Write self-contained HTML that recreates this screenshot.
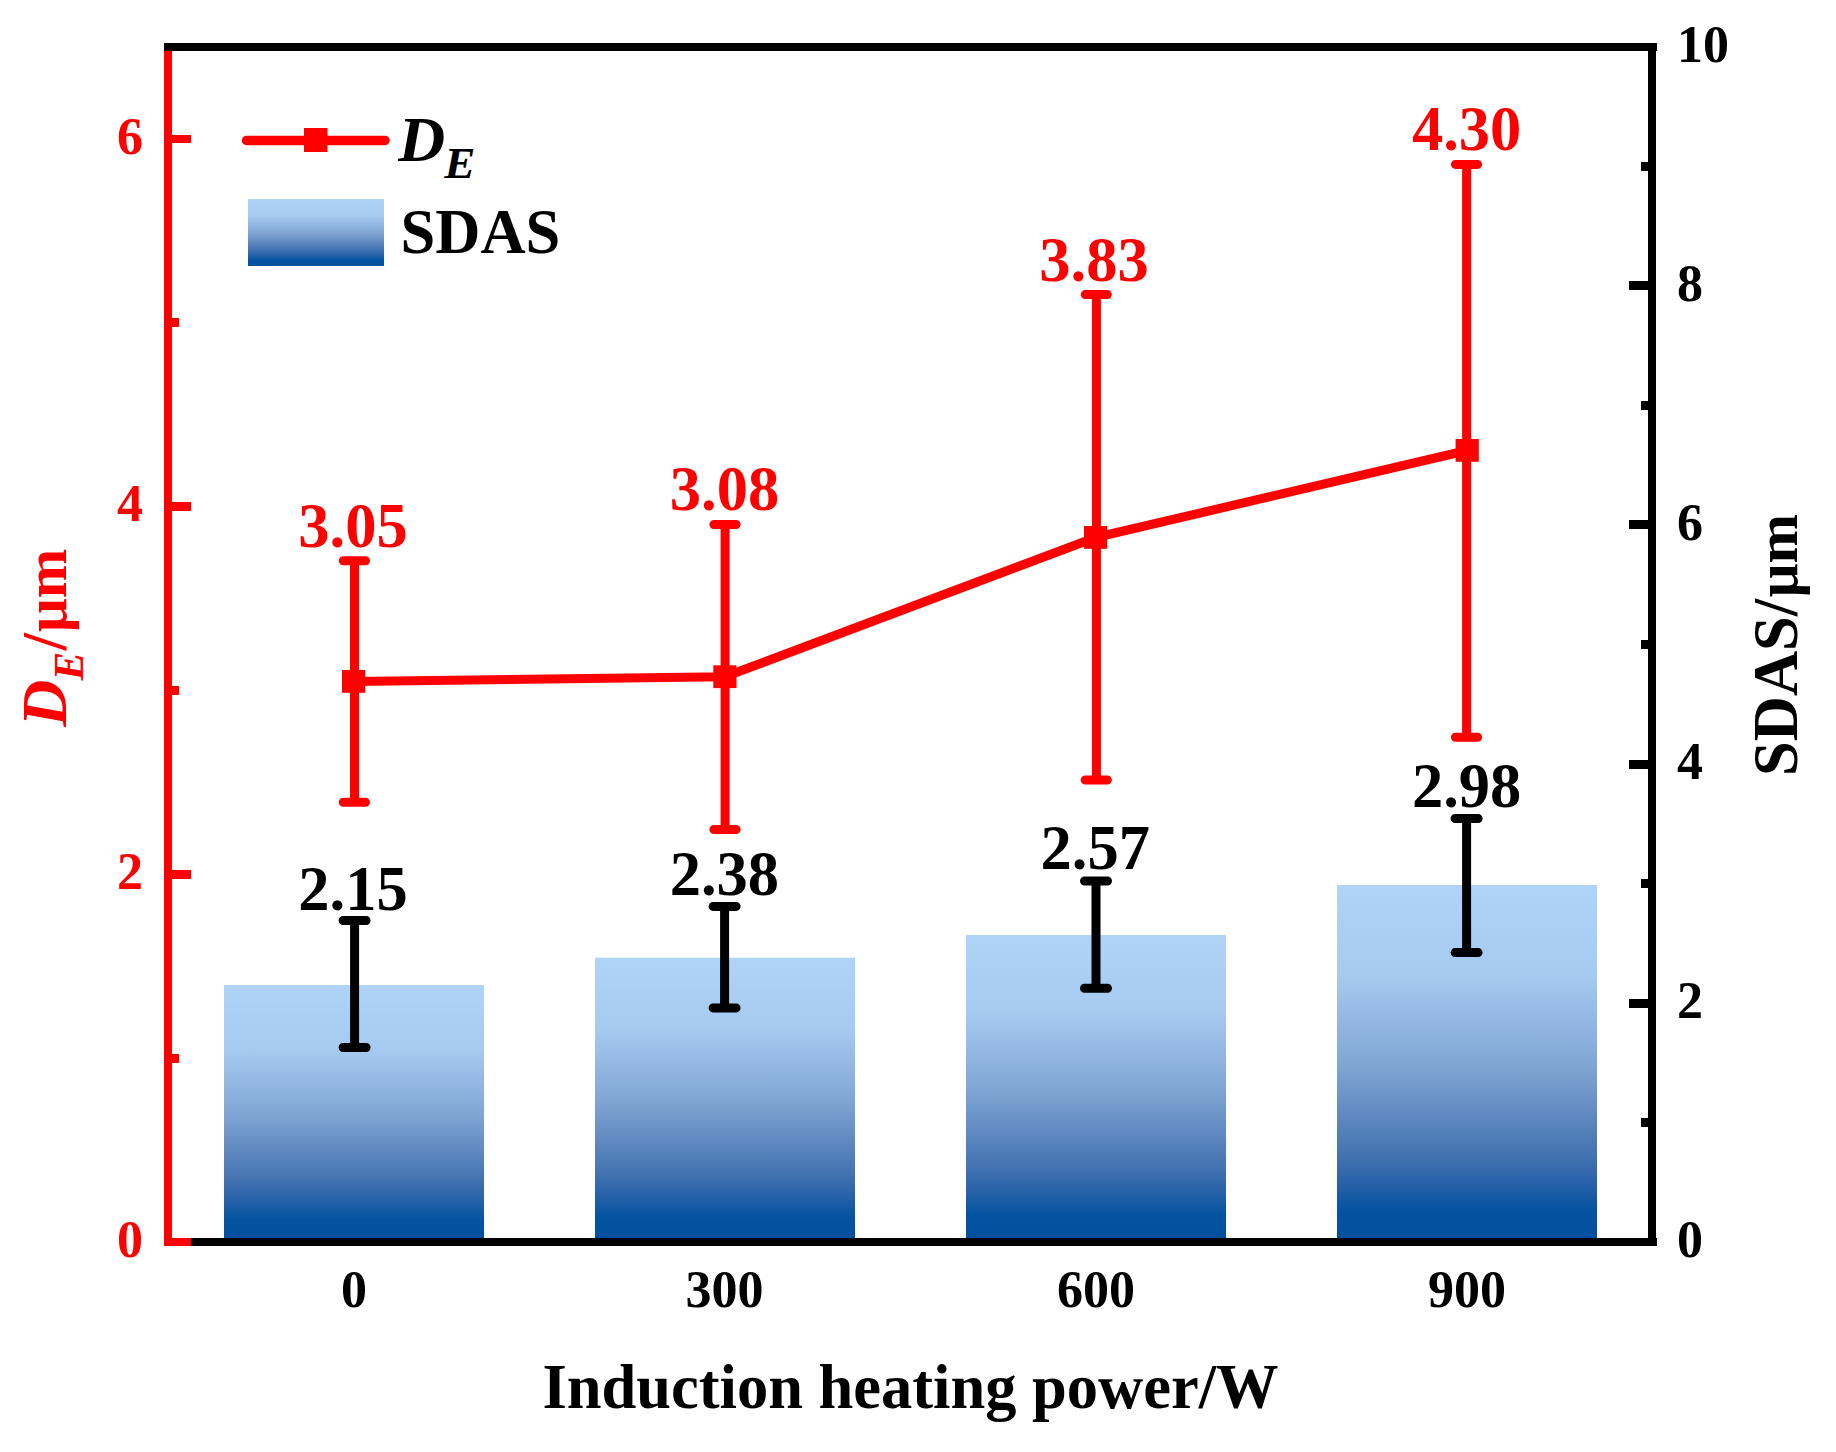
<!DOCTYPE html>
<html lang="en"><head><meta charset="utf-8"><title>Induction heating power chart</title>
<style>
html,body{margin:0;padding:0;background:#fff;}
body{width:1836px;height:1452px;overflow:hidden;}
svg{display:block;}
text{font-family:"Liberation Serif", "Times New Roman", serif;font-weight:bold;}
.t{font-size:62.5px;}
.k{font-size:52px;}
.i{font-style:italic;}
</style></head><body>
<svg width="1836" height="1452" viewBox="0 0 1836 1452">
<defs>
<linearGradient id="g" x1="0" y1="0" x2="0" y2="1">
<stop offset="0" stop-color="#b0d4f8"/>
<stop offset="0.25" stop-color="#a6caf0"/>
<stop offset="0.5" stop-color="#82a6d4"/>
<stop offset="0.75" stop-color="#4674b2"/>
<stop offset="0.84" stop-color="#2661a8"/>
<stop offset="0.915" stop-color="#0353a0"/>
<stop offset="1" stop-color="#00509e"/>
</linearGradient>
</defs>
<rect width="1836" height="1452" fill="#fff"/>

<rect x="224" y="985" width="260" height="257" fill="url(#g)"/>
<rect x="595" y="957.7" width="260" height="284.3" fill="url(#g)"/>
<rect x="966" y="935" width="260" height="307" fill="url(#g)"/>
<rect x="1337" y="885" width="260" height="357" fill="url(#g)"/>
<g shape-rendering="crispEdges">
<rect x="164" y="43" width="1493" height="8" fill="#000"/>
<rect x="1648" y="43" width="8" height="1203" fill="#000"/>
<rect x="164" y="1238" width="1493" height="8" fill="#000"/>
<rect x="164" y="51" width="8" height="1195" fill="#ff0000"/>
<rect x="168" y="135" width="23" height="8" fill="#ff0000"/>
<rect x="168" y="502" width="23" height="9" fill="#ff0000"/>
<rect x="168" y="870" width="23" height="9" fill="#ff0000"/>
<rect x="168" y="1238" width="23" height="8" fill="#ff0000"/>
<rect x="168" y="318" width="11" height="9" fill="#ff0000"/>
<rect x="168" y="686" width="11" height="9" fill="#ff0000"/>
<rect x="168" y="1054" width="11" height="9" fill="#ff0000"/>
<rect x="1629" y="281" width="23" height="9" fill="#000"/>
<rect x="1629" y="520" width="23" height="9" fill="#000"/>
<rect x="1629" y="760" width="23" height="9" fill="#000"/>
<rect x="1629" y="999" width="23" height="9" fill="#000"/>
<rect x="1641" y="162" width="11" height="9" fill="#000"/>
<rect x="1641" y="401" width="11" height="9" fill="#000"/>
<rect x="1641" y="640" width="11" height="9" fill="#000"/>
<rect x="1641" y="879" width="11" height="9" fill="#000"/>
<rect x="1641" y="1118" width="11" height="9" fill="#000"/>
</g>
<g stroke="#000" stroke-width="9" stroke-linecap="round" fill="none"><path d="M354.6 920.5V1047.5" stroke-linecap="butt"/><path d="M343.1 920.5H366.1 M343.1 1047.5H366.1"/></g>
<g stroke="#000" stroke-width="9" stroke-linecap="round" fill="none"><path d="M724.6 906.4V1007.9" stroke-linecap="butt"/><path d="M713.1 906.4H736.1 M713.1 1007.9H736.1"/></g>
<g stroke="#000" stroke-width="9" stroke-linecap="round" fill="none"><path d="M1096 881V988.3" stroke-linecap="butt"/><path d="M1084.5 881H1107.5 M1084.5 988.3H1107.5"/></g>
<g stroke="#000" stroke-width="9" stroke-linecap="round" fill="none"><path d="M1466.6 818.5V952.6" stroke-linecap="butt"/><path d="M1455.1 818.5H1478.1 M1455.1 952.6H1478.1"/></g>
<polyline points="353.5,681.5 724.8,676.8 1095.5,537.5 1467.1,450.5" fill="none" stroke="#ff0000" stroke-width="9" stroke-linejoin="round"/>
<g stroke="#ff0000" stroke-width="9" stroke-linecap="round" fill="none"><path d="M354.5 560.7V802.2" stroke-linecap="butt"/><path d="M343.3 560.7H365.5 M343.3 802.2H365.5"/></g>
<rect x="342" y="670" width="23.2" height="22.8" fill="#ff0000"/>
<g stroke="#ff0000" stroke-width="9" stroke-linecap="round" fill="none"><path d="M725.1 524.5V829.5" stroke-linecap="butt"/><path d="M713.9 524.5H736.1 M713.9 829.5H736.1"/></g>
<rect x="713.3" y="665.3" width="23.2" height="22.8" fill="#ff0000"/>
<g stroke="#ff0000" stroke-width="9" stroke-linecap="round" fill="none"><path d="M1096.4 294.6V780" stroke-linecap="butt"/><path d="M1085.2 294.6H1107.4 M1085.2 780H1107.4"/></g>
<rect x="1084" y="526" width="23.2" height="22.8" fill="#ff0000"/>
<g stroke="#ff0000" stroke-width="9" stroke-linecap="round" fill="none"><path d="M1466.6 164.4V737.3" stroke-linecap="butt"/><path d="M1455.4 164.4H1477.6 M1455.4 737.3H1477.6"/></g>
<rect x="1455.6" y="439" width="23.2" height="22.8" fill="#ff0000"/>
<text class="t" x="353" y="546.7" text-anchor="middle" fill="#ff0000">3.05</text>
<text class="t" x="724.5" y="510" text-anchor="middle" fill="#ff0000">3.08</text>
<text class="t" x="1094" y="280.5" text-anchor="middle" fill="#ff0000">3.83</text>
<text class="t" x="1466.6" y="150.3" text-anchor="middle" fill="#ff0000">4.30</text>
<text class="t" x="353" y="909.5" text-anchor="middle" fill="#000">2.15</text>
<text class="t" x="724.4" y="894.5" text-anchor="middle" fill="#000">2.38</text>
<text class="t" x="1095.3" y="868.9" text-anchor="middle" fill="#000">2.57</text>
<text class="t" x="1466.6" y="806.5" text-anchor="middle" fill="#000">2.98</text>
<text class="k" transform="translate(143,153.5) scale(1,1)" text-anchor="end" fill="#ff0000">6</text>
<text class="k" transform="translate(143,521) scale(1,1)" text-anchor="end" fill="#ff0000">4</text>
<text class="k" transform="translate(143,888.5) scale(1,1)" text-anchor="end" fill="#ff0000">2</text>
<text class="k" transform="translate(143,1256.5) scale(1,1)" text-anchor="end" fill="#ff0000">0</text>
<text class="k" transform="translate(1677,61.5) scale(1,1)" fill="#000">10</text>
<text class="k" transform="translate(1677,300.5) scale(1,1)" fill="#000">8</text>
<text class="k" transform="translate(1677,539.5) scale(1,1)" fill="#000">6</text>
<text class="k" transform="translate(1677,778.5) scale(1,1)" fill="#000">4</text>
<text class="k" transform="translate(1677,1017.5) scale(1,1)" fill="#000">2</text>
<text class="k" transform="translate(1677,1256.5) scale(1,1)" fill="#000">0</text>
<text class="k" transform="translate(354,1307.1) scale(1,1)" text-anchor="middle" fill="#000">0</text>
<text class="k" transform="translate(724.5,1307.1) scale(1,1)" text-anchor="middle" fill="#000">300</text>
<text class="k" transform="translate(1096,1307.1) scale(1,1)" text-anchor="middle" fill="#000">600</text>
<text class="k" transform="translate(1467,1307.1) scale(1,1)" text-anchor="middle" fill="#000">900</text>
<text class="t" x="910.5" y="1408.2" text-anchor="middle" fill="#000">Induction heating power/W</text>
<text class="t" transform="translate(1797,776) rotate(-90)" fill="#000">SDAS/<tspan font-size="59.5" dx="1.5">μm</tspan></text>
<g transform="translate(66,727.5) rotate(-90)" fill="#ff0000"><text class="t i" transform="translate(0.8,0) scale(1.04,1.02)">D</text><text class="t i" transform="translate(47,17)" style="font-size:43px">E</text><text class="t" x="76.9" y="0">/<tspan font-size="59.5" dx="1.2">μm</tspan></text></g>
<path d="M246.5 140.5H385" stroke="#ff0000" stroke-width="9.5" stroke-linecap="round" fill="none"/>
<rect x="304" y="128" width="23.5" height="24" fill="#ff0000"/>
<text class="t i" transform="translate(398.3,161) scale(1.04,1.02)" fill="#000">D</text><text class="t i" transform="translate(444.3,178) scale(1.05,1)" style="font-size:44.5px" fill="#000">E</text>
<rect x="248" y="199" width="136" height="67" fill="url(#g)"/>
<text class="t" x="400.5" y="253" fill="#000">SDAS</text>
</svg></body></html>
